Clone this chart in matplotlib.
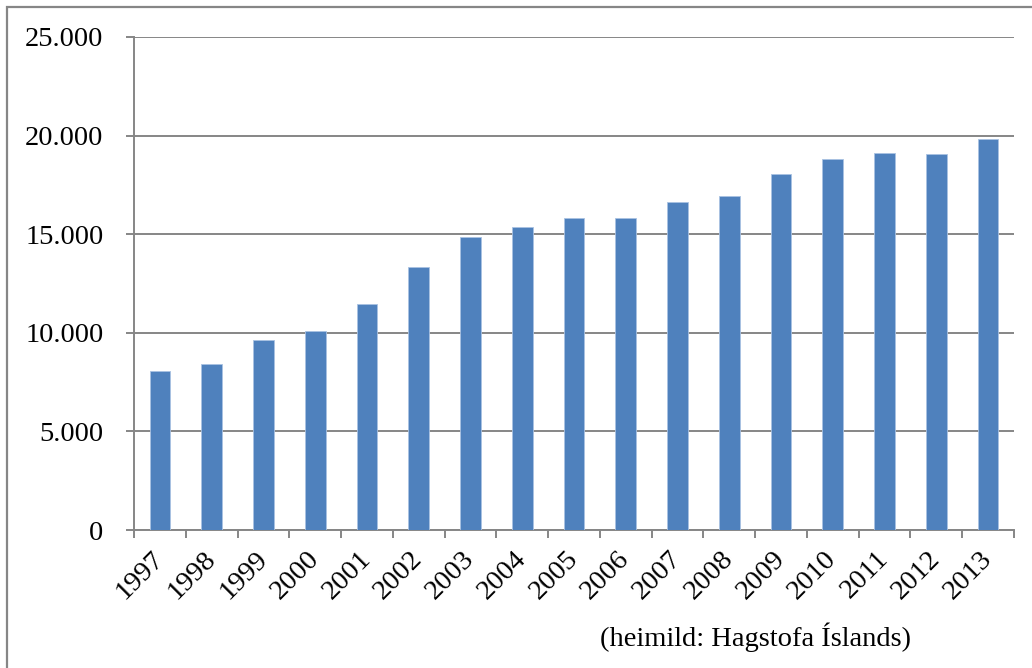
import numpy as np
import matplotlib.pyplot as plt
from matplotlib.patches import Rectangle
from matplotlib.ticker import FuncFormatter

years = ['1997', '1998', '1999', '2000', '2001', '2002', '2003', '2004', '2005',
         '2006', '2007', '2008', '2009', '2010', '2011', '2012', '2013']
values = [8070, 8440, 9640, 10100, 11460, 13340, 14860, 15360, 15800,
          15840, 16630, 16920, 18060, 18820, 19100, 19080, 19820]
source = '(heimild: Hagstofa Íslands)'

plt.rcParams['font.family'] = ['Liberation Serif', 'DejaVu Serif']
grey = '#868686'

fig = plt.figure(figsize=(10.32, 6.68), dpi=100)
ax = fig.add_axes([134/1032, 1 - 530/668, (1014 - 134)/1032, (530 - 37)/668])

ind = np.arange(len(years))
ax.bar(ind, values, 0.4, color='#4F81BD', edgecolor='#A9C2E2', linewidth=0.6, zorder=3)

ax.set_xlim(-0.5, len(years) - 0.5)
ax.set_ylim(0, 25000)
ax.set_yticks(np.arange(0, 25001, 5000))
ax.yaxis.set_major_formatter(FuncFormatter(lambda v, p: '{:,.0f}'.format(v).replace(',', '.')))
ax.grid(axis='y', color=grey, linewidth=1.4, zorder=0)

# labels at the bar centres, tick marks between the categories
ax.set_xticks(ind)
ax.set_xticklabels(years, rotation=45, ha='right', va='center', rotation_mode='anchor')
ax.set_xticks(np.arange(-0.5, len(years)), minor=True)
ax.tick_params(axis='x', which='major', length=0, pad=18, labelsize=20.5)
ax.tick_params(axis='x', which='minor', length=6, width=1.4, color=grey, direction='out')
ax.tick_params(axis='y', length=6, width=1.4, color=grey, pad=16, labelsize=20.5)

for s in ['top', 'right']:
    ax.spines[s].set_visible(False)
for s in ['left', 'bottom']:
    ax.spines[s].set_color(grey)
    ax.spines[s].set_linewidth(1.4)

fig.text(600/1032, 1 - 637/668, source, ha='left', va='center', fontsize=20.5)

# frame round the whole chart
fig.patches.append(Rectangle((7/1032, -0.1), 1.2, 1.1 - 7/668,
                             transform=fig.transFigure, fill=False,
                             edgecolor=grey, linewidth=1.6))

fig.savefig('out.png', dpi=100)
